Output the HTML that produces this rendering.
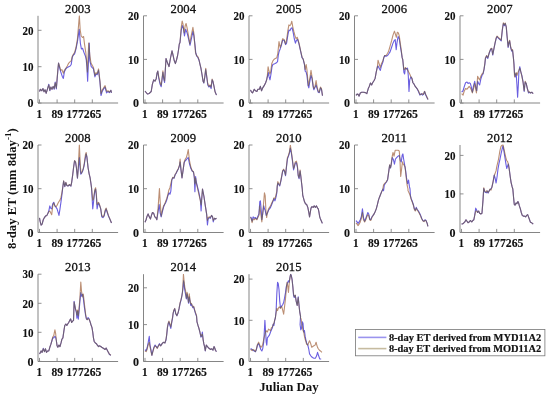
<!DOCTYPE html><html><head><meta charset="utf-8"><style>html,body{margin:0;padding:0;background:#fff;width:550px;height:398px;overflow:hidden}svg{display:block}text{font-family:"Liberation Serif","Times New Roman",serif}</style></head><body>
<svg width="550" height="398" viewBox="0 0 550 398">
<rect width="550" height="398" fill="#fff"/>
<defs><filter id="bl" x="-5%" y="-5%" width="110%" height="110%"><feGaussianBlur stdDeviation="0.35"/></filter></defs>
<text x="77.8" y="13.2" font-size="13.5" text-anchor="middle" fill="#111" stroke="#111" stroke-width="0.3" textLength="25.4" lengthAdjust="spacingAndGlyphs">2003</text>
<clipPath id="c2003"><rect x="37.6" y="15.3" width="80.3" height="87.8"/></clipPath>
<g clip-path="url(#c2003)"><g filter="url(#bl)" fill="none" stroke-width="1.1" stroke-linejoin="round">
<polyline points="39.50,91.46 40.36,89.30 41.82,90.75 42.98,88.57 44.00,91.77 45.02,89.73 46.18,93.23 47.35,89.30 48.80,84.93 49.82,90.32 50.84,87.11 52.00,89.30 53.16,86.39 54.18,88.57 55.20,82.75 56.36,87.84 57.82,69.65 58.55,63.09 59.71,66.73 60.73,70.37 61.89,69.65 63.35,73.28 64.36,70.37 65.82,68.19 67.27,66.01 68.73,63.09 70.18,61.64 71.20,60.91 72.36,56.22 73.53,54.03 74.55,52.58 76.00,47.48 77.45,38.75 79.35,15.75 80.20,30.00 81.20,36.00 82.50,37.50 83.60,36.50 84.50,44.00 85.80,52.70 86.60,60.80 87.40,72.00 88.70,43.00 89.90,56.00 91.00,63.00 93.45,67.46 94.91,75.47 95.93,72.56 97.09,74.01 98.55,68.92 100.00,81.29 101.02,93.66 102.18,90.03 103.64,87.84 105.09,85.66 106.55,91.48 108.00,90.75 109.45,92.21 110.91,90.32 111.50,92.68" stroke="#bc8f74" style="mix-blend-mode:darken"/>
<polyline points="39.50,91.46 40.36,89.30 41.82,90.75 42.98,88.57 44.00,91.77 45.02,89.73 46.18,93.23 47.35,89.30 48.80,84.20 49.82,90.75 50.84,87.11 52.00,89.30 53.16,86.39 54.18,89.30 55.20,82.02 56.36,88.86 57.82,71.10 58.55,63.09 59.71,68.19 60.73,71.83 62.18,76.20 63.35,78.38 64.36,71.83 65.82,68.92 67.27,67.46 68.73,66.73 70.18,66.01 71.20,64.55 72.36,56.94 73.53,54.76 74.55,54.03 76.00,48.94 77.45,41.66 79.20,29.28 80.36,43.11 81.38,48.94 82.55,48.21 84.00,52.58 85.45,56.22 86.18,59.42 86.91,66.73 87.64,81.29 88.36,63.82 89.24,43.11 89.82,60.91 91.27,66.73 93.45,68.92 94.91,76.92 95.93,74.01 97.09,74.74 98.55,70.37 100.00,82.75 101.02,95.56 102.18,91.48 103.64,88.86 105.09,87.11 106.55,92.94 108.00,91.48 109.45,92.65 110.91,90.32 111.50,92.86" stroke="#6a5ee0" style="mix-blend-mode:darken"/>
</g></g>
<path d="M38.00 15.8V103.00H118.1" fill="none" stroke="#858585" stroke-width="1"/>
<path d="M38.0 103.1h3.5" stroke="#858585" stroke-width="0.9"/>
<text x="33.4" y="107.3" font-size="12" font-weight="bold" text-anchor="end" fill="#111" stroke="#111" stroke-width="0.12">0</text>
<path d="M38.0 66.7h3.5" stroke="#858585" stroke-width="0.9"/>
<text x="33.4" y="71.0" font-size="12" font-weight="bold" text-anchor="end" fill="#111" stroke="#111" stroke-width="0.12" textLength="11.0" lengthAdjust="spacingAndGlyphs">10</text>
<path d="M38.0 30.3h3.5" stroke="#858585" stroke-width="0.9"/>
<text x="33.4" y="34.6" font-size="12" font-weight="bold" text-anchor="end" fill="#111" stroke="#111" stroke-width="0.12" textLength="11.0" lengthAdjust="spacingAndGlyphs">20</text>
<path d="M39.5 103.0v-3.6" stroke="#858585" stroke-width="0.9"/>
<path d="M57.1 103.0v-3.6" stroke="#858585" stroke-width="0.9"/>
<path d="M74.7 103.0v-3.6" stroke="#858585" stroke-width="0.9"/>
<path d="M92.3 103.0v-3.6" stroke="#858585" stroke-width="0.9"/>
<text x="39.3" y="118.1" font-size="12" font-weight="bold" text-anchor="middle" fill="#111" stroke="#111" stroke-width="0.12" textLength="5.6" lengthAdjust="spacingAndGlyphs">1</text>
<text x="57.2" y="118.1" font-size="12" font-weight="bold" text-anchor="middle" fill="#111" stroke="#111" stroke-width="0.12" textLength="11.5" lengthAdjust="spacingAndGlyphs">89</text>
<text x="83.8" y="118.1" font-size="12" font-weight="bold" text-anchor="middle" fill="#111" stroke="#111" stroke-width="0.12" textLength="35.3" lengthAdjust="spacingAndGlyphs">177265</text>
<text x="183.3" y="13.2" font-size="13.5" text-anchor="middle" fill="#111" stroke="#111" stroke-width="0.3" textLength="25.4" lengthAdjust="spacingAndGlyphs">2004</text>
<clipPath id="c2004"><rect x="143.6" y="15.3" width="80.3" height="87.8"/></clipPath>
<g clip-path="url(#c2004)"><g filter="url(#bl)" fill="none" stroke-width="1.1" stroke-linejoin="round">
<polyline points="145.00,91.23 145.30,91.50 147.40,94.00 149.30,93.40 151.20,91.50 152.40,84.20 153.70,79.90 155.00,81.20 156.20,78.70 157.10,72.90 157.80,71.10 158.70,76.40 160.00,82.50 161.20,85.20 162.10,77.70 162.90,70.90 163.80,77.70 164.60,81.00 166.00,58.50 167.20,62.00 169.00,66.60 170.50,58.00 172.00,50.80 173.00,55.00 174.20,60.50 175.40,63.60 176.50,60.00 177.60,55.50 178.50,50.00 179.30,44.00 180.00,42.50 181.27,27.10 182.15,20.99 183.02,24.19 184.18,32.92 185.20,25.65 186.07,23.46 187.09,27.83 188.55,35.84 189.71,43.84 191.16,35.84 192.91,27.39 193.78,32.92 194.65,43.11 195.53,52.58 196.55,55.49 198.00,56.94 199.02,59.75 199.89,63.82 200.91,68.19 201.93,74.01 203.09,81.29 203.82,82.75 204.84,76.20 205.71,68.19 206.73,76.20 207.75,83.47 208.91,86.39 210.07,84.93 211.09,87.11 212.11,79.11 212.98,81.29 214.00,86.39 215.02,91.77 216.47,95.12" stroke="#bc8f74" style="mix-blend-mode:darken"/>
<polyline points="145.00,91.23 145.30,91.50 147.40,94.00 149.30,93.40 151.20,91.50 152.40,84.20 153.70,79.90 155.00,81.20 156.20,78.70 157.10,72.90 157.80,71.10 158.70,77.90 160.00,84.00 161.20,86.70 162.10,79.20 162.90,72.40 163.80,79.20 164.60,82.50 166.00,58.50 167.20,62.00 169.00,66.60 170.50,58.00 172.00,50.80 173.00,55.00 174.20,60.50 175.40,63.60 176.50,60.00 177.60,55.50 178.50,50.00 179.30,44.00 180.00,42.50 181.27,30.01 182.29,25.65 183.45,28.56 184.47,35.84 185.64,29.28 187.09,32.92 188.55,38.75 190.00,45.30 191.45,38.75 192.91,31.47 193.93,35.84 194.95,44.57 195.82,53.30 196.84,56.22 198.00,57.67 199.02,60.18 199.89,63.82 200.91,68.19 201.93,74.01 203.09,81.29 203.82,83.04 204.84,76.92 205.71,69.65 206.73,76.92 207.75,84.93 208.91,87.11 210.07,85.66 211.09,88.57 212.11,79.84 212.98,81.58 214.00,86.39 215.02,91.48 216.47,95.12" stroke="#6a5ee0" style="mix-blend-mode:darken"/>
</g></g>
<path d="M143.50 15.8V103.00H223.6" fill="none" stroke="#858585" stroke-width="1"/>
<path d="M143.5 103.1h3.5" stroke="#858585" stroke-width="0.9"/>
<text x="138.9" y="107.3" font-size="12" font-weight="bold" text-anchor="end" fill="#111" stroke="#111" stroke-width="0.12">0</text>
<path d="M143.5 59.4h3.5" stroke="#858585" stroke-width="0.9"/>
<text x="138.9" y="63.7" font-size="12" font-weight="bold" text-anchor="end" fill="#111" stroke="#111" stroke-width="0.12" textLength="11.0" lengthAdjust="spacingAndGlyphs">10</text>
<path d="M143.5 15.8h3.5" stroke="#858585" stroke-width="0.9"/>
<text x="138.9" y="20.0" font-size="12" font-weight="bold" text-anchor="end" fill="#111" stroke="#111" stroke-width="0.12" textLength="11.0" lengthAdjust="spacingAndGlyphs">20</text>
<path d="M145.0 103.0v-3.6" stroke="#858585" stroke-width="0.9"/>
<path d="M162.6 103.0v-3.6" stroke="#858585" stroke-width="0.9"/>
<path d="M180.2 103.0v-3.6" stroke="#858585" stroke-width="0.9"/>
<path d="M197.8 103.0v-3.6" stroke="#858585" stroke-width="0.9"/>
<text x="144.8" y="118.1" font-size="12" font-weight="bold" text-anchor="middle" fill="#111" stroke="#111" stroke-width="0.12" textLength="5.6" lengthAdjust="spacingAndGlyphs">1</text>
<text x="162.8" y="118.1" font-size="12" font-weight="bold" text-anchor="middle" fill="#111" stroke="#111" stroke-width="0.12" textLength="11.5" lengthAdjust="spacingAndGlyphs">89</text>
<text x="189.3" y="118.1" font-size="12" font-weight="bold" text-anchor="middle" fill="#111" stroke="#111" stroke-width="0.12" textLength="35.3" lengthAdjust="spacingAndGlyphs">177265</text>
<text x="288.8" y="13.2" font-size="13.5" text-anchor="middle" fill="#111" stroke="#111" stroke-width="0.3" textLength="25.4" lengthAdjust="spacingAndGlyphs">2005</text>
<clipPath id="c2005"><rect x="248.9" y="15.3" width="80.3" height="87.8"/></clipPath>
<g clip-path="url(#c2005)"><g filter="url(#bl)" fill="none" stroke-width="1.1" stroke-linejoin="round">
<polyline points="250.50,89.87 251.36,91.77 252.53,92.94 254.27,89.30 255.44,90.75 256.89,91.48 257.91,89.30 259.36,89.30 260.38,86.39 261.55,90.75 262.71,87.84 264.16,85.66 265.62,82.75 266.64,79.84 267.36,75.47 268.09,66.73 268.82,70.37 269.84,74.01 270.71,71.83 271.73,63.82 272.89,60.91 273.91,59.46 275.36,58.40 276.82,57.67 277.84,53.30 279.00,41.66 280.16,47.48 281.18,44.57 282.64,38.75 284.09,39.47 285.55,43.84 286.56,40.20 287.73,31.47 288.89,24.92 289.91,25.65 290.93,24.19 291.80,21.28 292.82,27.10 293.84,31.47 295.00,35.84 296.16,38.75 297.18,37.29 298.20,40.20 299.36,44.57 300.53,50.39 301.55,54.76 302.27,57.67 303.29,59.46 304.45,63.82 305.18,69.65 306.20,64.55 306.93,69.65 307.80,79.84 308.38,85.66 309.25,81.29 310.27,75.47 311.00,70.37 312.02,76.92 313.18,85.66 313.91,88.57 315.07,86.39 316.09,80.56 317.11,87.11 318.27,91.48 319.29,92.21 320.45,87.11 321.47,88.57 322.50,95.64" stroke="#bc8f74" style="mix-blend-mode:darken"/>
<polyline points="250.50,89.87 251.36,91.77 252.53,92.94 254.27,89.30 255.44,90.75 256.89,91.48 257.91,89.30 259.36,89.30 260.38,86.39 261.55,90.75 262.71,87.84 264.16,85.66 265.62,82.75 266.64,79.84 267.36,76.92 268.38,72.56 269.11,76.92 269.98,79.84 271.00,74.01 272.02,66.73 272.89,64.55 274.64,63.82 276.09,63.09 277.55,61.64 278.27,55.49 279.00,51.85 280.16,48.94 281.18,46.03 282.64,40.20 284.09,40.20 285.55,44.57 286.56,43.11 287.73,35.84 288.89,30.01 289.91,30.74 290.93,28.56 292.09,27.83 293.25,32.92 294.27,38.75 295.44,43.11 296.45,40.20 297.62,39.47 298.78,43.11 300.09,48.94 301.11,53.30 301.98,57.67 303.00,58.73 304.45,64.55 305.18,71.10 306.05,71.83 306.93,75.47 308.09,85.66 308.82,87.84 309.84,81.29 311.00,75.47 312.02,78.38 313.18,87.11 313.91,89.73 315.07,87.11 316.09,84.93 317.11,88.57 318.27,92.21 319.29,92.65 320.45,87.84 321.47,89.30 322.50,95.72" stroke="#6a5ee0" style="mix-blend-mode:darken"/>
</g></g>
<path d="M249.00 15.8V103.00H329.1" fill="none" stroke="#858585" stroke-width="1"/>
<path d="M249.0 103.1h3.5" stroke="#858585" stroke-width="0.9"/>
<text x="244.4" y="107.3" font-size="12" font-weight="bold" text-anchor="end" fill="#111" stroke="#111" stroke-width="0.12">0</text>
<path d="M249.0 59.4h3.5" stroke="#858585" stroke-width="0.9"/>
<text x="244.4" y="63.7" font-size="12" font-weight="bold" text-anchor="end" fill="#111" stroke="#111" stroke-width="0.12" textLength="11.0" lengthAdjust="spacingAndGlyphs">10</text>
<path d="M249.0 15.8h3.5" stroke="#858585" stroke-width="0.9"/>
<text x="244.4" y="20.0" font-size="12" font-weight="bold" text-anchor="end" fill="#111" stroke="#111" stroke-width="0.12" textLength="11.0" lengthAdjust="spacingAndGlyphs">20</text>
<path d="M250.5 103.0v-3.6" stroke="#858585" stroke-width="0.9"/>
<path d="M268.1 103.0v-3.6" stroke="#858585" stroke-width="0.9"/>
<path d="M285.7 103.0v-3.6" stroke="#858585" stroke-width="0.9"/>
<path d="M303.3 103.0v-3.6" stroke="#858585" stroke-width="0.9"/>
<text x="250.3" y="118.1" font-size="12" font-weight="bold" text-anchor="middle" fill="#111" stroke="#111" stroke-width="0.12" textLength="5.6" lengthAdjust="spacingAndGlyphs">1</text>
<text x="268.2" y="118.1" font-size="12" font-weight="bold" text-anchor="middle" fill="#111" stroke="#111" stroke-width="0.12" textLength="11.5" lengthAdjust="spacingAndGlyphs">89</text>
<text x="294.8" y="118.1" font-size="12" font-weight="bold" text-anchor="middle" fill="#111" stroke="#111" stroke-width="0.12" textLength="35.3" lengthAdjust="spacingAndGlyphs">177265</text>
<text x="394.3" y="13.2" font-size="13.5" text-anchor="middle" fill="#111" stroke="#111" stroke-width="0.3" textLength="25.4" lengthAdjust="spacingAndGlyphs">2006</text>
<clipPath id="c2006"><rect x="354.7" y="15.3" width="80.3" height="87.8"/></clipPath>
<g clip-path="url(#c2006)"><g filter="url(#bl)" fill="none" stroke-width="1.1" stroke-linejoin="round">
<polyline points="356.00,95.44 357.07,94.10 358.09,94.39 359.11,96.14 360.27,92.94 361.73,92.21 363.47,92.21 365.36,92.65 366.82,93.66 368.27,88.57 369.29,86.39 370.45,83.04 371.62,84.93 372.64,82.75 374.09,80.56 375.11,78.38 376.27,71.83 377.44,66.73 378.02,60.18 379.18,63.82 380.35,67.46 381.36,63.82 382.82,60.91 383.84,57.38 384.71,55.49 386.16,55.49 387.62,53.30 388.64,51.12 390.09,46.03 391.55,40.93 393.00,35.11 394.45,31.18 395.47,34.38 396.35,37.29 397.36,32.20 398.38,32.92 399.25,35.84 400.27,43.11 401.29,50.39 402.16,57.67 402.75,59.46 403.18,63.82 403.91,69.65 404.64,69.65 405.36,67.46 406.53,68.92 407.55,69.65 408.56,71.83 409.73,74.01 410.89,76.92 411.91,78.38 412.93,82.75 414.09,84.20 415.25,86.39 417.00,88.57 418.45,90.75 419.91,94.39 421.36,94.39 422.53,93.66 423.55,94.39 424.56,91.19 425.73,94.39 427.18,97.59 428.00,99.44" stroke="#bc8f74" style="mix-blend-mode:darken"/>
<polyline points="356.00,95.44 357.07,94.10 358.09,94.39 359.11,96.14 360.27,92.94 361.73,92.21 363.47,92.21 365.36,92.65 366.82,93.66 368.27,88.57 369.29,86.39 370.45,83.04 371.62,84.93 372.64,82.75 374.09,80.56 375.11,78.38 376.27,71.83 377.44,66.73 378.02,66.01 379.18,68.19 380.35,70.37 381.36,66.01 382.82,62.37 383.84,57.67 384.71,55.49 386.16,56.22 387.62,55.49 388.64,54.03 390.09,51.85 391.55,47.48 393.00,43.11 394.02,40.93 395.18,39.47 396.20,49.66 396.93,43.11 398.09,36.56 399.25,38.75 400.27,46.03 401.29,51.85 402.16,57.67 402.75,59.46 403.18,63.82 403.91,72.56 404.64,74.01 405.36,68.19 406.53,68.92 407.55,68.19 408.27,75.47 409.00,91.48 409.73,79.84 410.89,76.92 411.91,78.38 412.93,82.75 414.09,84.20 415.25,86.39 417.00,88.57 418.45,91.48 419.91,95.12 421.36,93.66 422.53,95.12 423.55,94.39 424.56,91.48 425.73,95.12 427.18,98.03 428.00,99.57" stroke="#6a5ee0" style="mix-blend-mode:darken"/>
</g></g>
<path d="M354.50 15.8V103.00H434.6" fill="none" stroke="#858585" stroke-width="1"/>
<path d="M354.5 103.1h3.5" stroke="#858585" stroke-width="0.9"/>
<text x="349.9" y="107.3" font-size="12" font-weight="bold" text-anchor="end" fill="#111" stroke="#111" stroke-width="0.12">0</text>
<path d="M354.5 59.4h3.5" stroke="#858585" stroke-width="0.9"/>
<text x="349.9" y="63.7" font-size="12" font-weight="bold" text-anchor="end" fill="#111" stroke="#111" stroke-width="0.12" textLength="11.0" lengthAdjust="spacingAndGlyphs">10</text>
<path d="M354.5 15.8h3.5" stroke="#858585" stroke-width="0.9"/>
<text x="349.9" y="20.0" font-size="12" font-weight="bold" text-anchor="end" fill="#111" stroke="#111" stroke-width="0.12" textLength="11.0" lengthAdjust="spacingAndGlyphs">20</text>
<path d="M356.0 103.0v-3.6" stroke="#858585" stroke-width="0.9"/>
<path d="M373.6 103.0v-3.6" stroke="#858585" stroke-width="0.9"/>
<path d="M391.2 103.0v-3.6" stroke="#858585" stroke-width="0.9"/>
<path d="M408.8 103.0v-3.6" stroke="#858585" stroke-width="0.9"/>
<text x="355.8" y="118.1" font-size="12" font-weight="bold" text-anchor="middle" fill="#111" stroke="#111" stroke-width="0.12" textLength="5.6" lengthAdjust="spacingAndGlyphs">1</text>
<text x="373.8" y="118.1" font-size="12" font-weight="bold" text-anchor="middle" fill="#111" stroke="#111" stroke-width="0.12" textLength="11.5" lengthAdjust="spacingAndGlyphs">89</text>
<text x="400.3" y="118.1" font-size="12" font-weight="bold" text-anchor="middle" fill="#111" stroke="#111" stroke-width="0.12" textLength="35.3" lengthAdjust="spacingAndGlyphs">177265</text>
<text x="499.8" y="13.2" font-size="13.5" text-anchor="middle" fill="#111" stroke="#111" stroke-width="0.3" textLength="25.4" lengthAdjust="spacingAndGlyphs">2007</text>
<clipPath id="c2007"><rect x="460.2" y="15.3" width="80.3" height="87.8"/></clipPath>
<g clip-path="url(#c2007)"><g filter="url(#bl)" fill="none" stroke-width="1.1" stroke-linejoin="round">
<polyline points="461.62,93.66 463.07,95.12 464.09,91.48 465.55,88.57 467.00,89.30 468.02,87.84 469.18,86.39 470.35,87.84 471.36,90.03 472.38,92.94 473.55,88.57 474.71,83.47 475.73,89.30 476.45,92.94 477.62,76.20 478.64,78.38 479.65,79.84 480.82,76.20 481.98,74.01 483.00,73.28 484.02,68.92 484.89,63.09 485.47,57.67 486.64,55.49 487.80,57.67 489.25,52.58 490.71,48.65 491.73,48.21 492.75,54.47 493.91,48.65 495.07,42.82 496.09,38.02 497.11,36.13 498.27,37.29 499.73,38.75 501.18,40.20 502.35,29.28 503.36,22.73 504.38,24.92 505.25,23.03 506.27,26.81 507.00,35.11 508.16,46.75 508.89,42.39 509.62,40.20 510.64,46.75 511.65,50.39 512.53,49.66 513.40,57.67 513.98,65.28 514.56,76.92 515.44,74.01 516.16,72.56 516.89,75.47 517.91,72.56 518.93,70.37 519.80,68.19 520.82,71.83 521.84,76.20 523.00,82.02 524.16,90.75 525.18,81.29 526.20,83.47 527.36,88.57 528.53,92.21 529.55,91.77 530.56,92.94 531.73,92.21 533.18,93.66" stroke="#bc8f74" style="mix-blend-mode:darken"/>
<polyline points="461.62,92.21 463.07,90.75 464.09,87.11 465.55,82.75 467.00,82.02 468.02,83.47 469.18,82.75 470.35,83.47 471.36,87.11 472.38,92.21 473.55,85.66 474.71,81.29 475.73,87.11 476.75,90.75 477.62,81.29 478.64,83.47 479.65,84.93 480.82,79.11 481.98,75.47 483.00,74.01 484.02,69.65 484.89,63.82 485.47,58.40 486.64,55.92 487.80,58.40 489.25,53.01 490.71,49.23 491.73,48.65 492.75,55.05 493.91,48.94 495.07,43.11 496.09,38.75 497.11,36.56 498.27,38.02 499.73,39.47 501.18,40.93 502.35,30.01 503.36,23.46 504.38,25.65 505.25,23.46 506.27,27.10 507.00,35.84 508.16,47.48 508.89,43.11 509.62,40.93 510.64,47.48 511.65,51.12 512.53,50.10 513.40,57.67 513.98,63.82 514.56,74.01 515.44,76.92 516.16,73.28 516.89,84.20 517.62,97.30 518.35,84.20 518.93,71.10 519.80,66.73 520.82,71.83 521.84,75.47 523.00,81.29 524.16,91.48 525.18,82.02 526.20,83.47 527.36,88.57 528.53,92.94 529.55,92.21 530.56,92.94 531.73,92.21 533.18,93.66" stroke="#6a5ee0" style="mix-blend-mode:darken"/>
</g></g>
<path d="M460.00 15.8V103.00H540.1" fill="none" stroke="#858585" stroke-width="1"/>
<path d="M460.0 103.1h3.5" stroke="#858585" stroke-width="0.9"/>
<text x="455.4" y="107.3" font-size="12" font-weight="bold" text-anchor="end" fill="#111" stroke="#111" stroke-width="0.12">0</text>
<path d="M460.0 59.4h3.5" stroke="#858585" stroke-width="0.9"/>
<text x="455.4" y="63.7" font-size="12" font-weight="bold" text-anchor="end" fill="#111" stroke="#111" stroke-width="0.12" textLength="11.0" lengthAdjust="spacingAndGlyphs">10</text>
<path d="M460.0 15.8h3.5" stroke="#858585" stroke-width="0.9"/>
<text x="455.4" y="20.0" font-size="12" font-weight="bold" text-anchor="end" fill="#111" stroke="#111" stroke-width="0.12" textLength="11.0" lengthAdjust="spacingAndGlyphs">20</text>
<path d="M461.5 103.0v-3.6" stroke="#858585" stroke-width="0.9"/>
<path d="M479.1 103.0v-3.6" stroke="#858585" stroke-width="0.9"/>
<path d="M496.7 103.0v-3.6" stroke="#858585" stroke-width="0.9"/>
<path d="M514.3 103.0v-3.6" stroke="#858585" stroke-width="0.9"/>
<text x="461.3" y="118.1" font-size="12" font-weight="bold" text-anchor="middle" fill="#111" stroke="#111" stroke-width="0.12" textLength="5.6" lengthAdjust="spacingAndGlyphs">1</text>
<text x="479.2" y="118.1" font-size="12" font-weight="bold" text-anchor="middle" fill="#111" stroke="#111" stroke-width="0.12" textLength="11.5" lengthAdjust="spacingAndGlyphs">89</text>
<text x="505.8" y="118.1" font-size="12" font-weight="bold" text-anchor="middle" fill="#111" stroke="#111" stroke-width="0.12" textLength="35.3" lengthAdjust="spacingAndGlyphs">177265</text>
<text x="77.8" y="141.8" font-size="13.5" text-anchor="middle" fill="#111" stroke="#111" stroke-width="0.3" textLength="25.4" lengthAdjust="spacingAndGlyphs">2008</text>
<clipPath id="c2008"><rect x="37.6" y="144.5" width="80.3" height="87.9"/></clipPath>
<g clip-path="url(#c2008)"><g filter="url(#bl)" fill="none" stroke-width="1.1" stroke-linejoin="round">
<polyline points="39.50,217.87 40.07,221.21 41.09,225.14 42.11,224.12 43.27,219.75 44.44,217.57 45.45,216.11 46.91,215.39 47.93,213.20 48.80,211.75 49.82,211.02 50.55,212.47 51.71,214.66 52.73,205.92 53.75,203.01 54.91,205.92 56.07,206.65 57.09,205.20 58.11,203.01 58.98,201.56 60.00,200.10 61.02,197.19 61.89,192.82 62.62,188.46 63.64,180.85 64.80,186.38 65.82,182.30 66.84,185.22 68.00,185.94 69.45,184.49 70.91,185.94 71.64,182.30 72.65,175.03 73.53,167.75 74.55,160.47 75.56,161.92 76.44,167.75 77.45,177.94 78.18,169.20 79.35,144.75 80.36,166.29 81.09,173.57 82.25,171.39 83.27,168.47 84.29,163.38 85.45,154.65 86.18,152.46 86.91,157.56 88.07,167.75 89.09,173.57 90.11,177.94 90.98,183.76 91.56,188.13 92.00,192.82 92.73,200.10 93.45,199.37 94.18,194.28 94.91,189.18 95.64,187.73 96.36,194.28 97.09,204.47 97.82,203.01 98.55,202.28 99.71,205.20 100.73,208.84 101.75,215.39 102.91,216.84 104.07,215.39 105.09,210.29 106.11,208.11 107.27,211.75 108.44,215.39 109.45,217.86 110.47,220.48 111.50,223.05" stroke="#bc8f74" style="mix-blend-mode:darken"/>
<polyline points="39.50,217.87 40.07,221.21 41.09,225.14 42.11,224.12 43.27,219.75 44.44,217.57 45.45,216.11 46.91,215.39 47.93,213.20 48.80,211.02 49.82,205.92 50.55,208.11 51.71,208.84 52.73,203.74 53.75,202.28 54.91,205.92 56.07,207.38 57.09,208.84 58.11,212.47 58.98,215.39 60.00,208.84 61.02,201.56 61.89,195.01 62.62,188.46 63.64,181.14 64.80,186.67 65.82,182.59 66.84,185.51 68.00,186.09 69.45,184.78 70.91,186.09 71.64,182.59 72.65,175.32 73.53,168.04 74.55,160.76 75.56,162.22 76.44,168.04 77.45,178.23 78.18,169.49 79.35,157.56 80.07,167.75 80.80,174.30 81.82,172.84 82.84,170.66 84.00,166.29 85.16,159.01 86.18,153.92 86.91,156.83 88.07,167.75 89.09,173.57 90.11,177.94 90.98,183.76 91.56,188.13 92.00,195.73 92.73,208.84 93.45,203.01 94.18,195.73 94.91,190.64 95.64,189.18 96.36,195.73 97.09,208.84 97.82,205.20 98.55,203.01 99.71,205.92 100.73,208.84 101.75,216.84 102.91,217.57 104.07,216.11 105.09,211.75 106.11,208.84 107.27,212.47 108.44,216.11 109.45,218.30 110.47,220.48 111.50,223.05" stroke="#6a5ee0" style="mix-blend-mode:darken"/>
</g></g>
<path d="M38.00 145.0V232.50H118.1" fill="none" stroke="#858585" stroke-width="1"/>
<path d="M38.0 232.4h3.5" stroke="#858585" stroke-width="0.9"/>
<text x="33.4" y="236.7" font-size="12" font-weight="bold" text-anchor="end" fill="#111" stroke="#111" stroke-width="0.12">0</text>
<path d="M38.0 188.7h3.5" stroke="#858585" stroke-width="0.9"/>
<text x="33.4" y="192.9" font-size="12" font-weight="bold" text-anchor="end" fill="#111" stroke="#111" stroke-width="0.12" textLength="11.0" lengthAdjust="spacingAndGlyphs">10</text>
<path d="M38.0 145.0h3.5" stroke="#858585" stroke-width="0.9"/>
<text x="33.4" y="149.2" font-size="12" font-weight="bold" text-anchor="end" fill="#111" stroke="#111" stroke-width="0.12" textLength="11.0" lengthAdjust="spacingAndGlyphs">20</text>
<path d="M39.5 232.5v-3.6" stroke="#858585" stroke-width="0.9"/>
<path d="M57.1 232.5v-3.6" stroke="#858585" stroke-width="0.9"/>
<path d="M74.7 232.5v-3.6" stroke="#858585" stroke-width="0.9"/>
<path d="M92.3 232.5v-3.6" stroke="#858585" stroke-width="0.9"/>
<text x="39.3" y="247.4" font-size="12" font-weight="bold" text-anchor="middle" fill="#111" stroke="#111" stroke-width="0.12" textLength="5.6" lengthAdjust="spacingAndGlyphs">1</text>
<text x="57.2" y="247.4" font-size="12" font-weight="bold" text-anchor="middle" fill="#111" stroke="#111" stroke-width="0.12" textLength="11.5" lengthAdjust="spacingAndGlyphs">89</text>
<text x="83.8" y="247.4" font-size="12" font-weight="bold" text-anchor="middle" fill="#111" stroke="#111" stroke-width="0.12" textLength="35.3" lengthAdjust="spacingAndGlyphs">177265</text>
<text x="183.3" y="141.8" font-size="13.5" text-anchor="middle" fill="#111" stroke="#111" stroke-width="0.3" textLength="25.4" lengthAdjust="spacingAndGlyphs">2009</text>
<clipPath id="c2009"><rect x="143.6" y="144.5" width="80.3" height="87.9"/></clipPath>
<g clip-path="url(#c2009)"><g filter="url(#bl)" fill="none" stroke-width="1.1" stroke-linejoin="round">
<polyline points="145.00,222.22 146.07,219.75 147.09,216.11 148.11,213.93 149.27,216.84 150.44,219.03 151.45,215.39 152.47,212.47 153.64,213.20 154.80,216.84 155.82,217.57 156.84,219.75 158.00,208.84 158.73,198.65 159.45,188.46 160.18,201.56 161.20,216.11 162.36,210.29 163.53,205.92 164.55,204.47 165.56,201.56 166.73,198.65 167.89,194.28 168.91,189.91 169.93,187.73 171.82,179.39 172.84,177.21 174.00,177.94 175.16,174.30 176.18,172.84 177.20,170.66 178.36,168.47 179.53,164.84 180.11,159.01 180.98,169.20 182.00,177.94 183.02,170.66 184.18,161.92 185.35,159.01 186.36,157.56 187.38,153.92 188.25,149.55 189.40,160.00 190.80,167.00 192.10,170.50 193.50,172.00 194.30,176.00 194.90,184.00 195.60,178.00 196.30,183.00 197.70,189.00 199.00,195.00 200.40,201.00 201.10,205.00 201.80,197.00 202.50,189.00 203.90,196.50 205.30,205.60 206.60,213.90 207.45,220.48 208.18,217.57 209.20,216.84 210.36,217.57 211.53,215.39 212.55,216.84 213.27,220.48 214.44,218.30 215.45,219.03 216.47,218.30" stroke="#bc8f74" style="mix-blend-mode:darken"/>
<polyline points="145.00,222.22 146.07,219.75 147.09,216.11 148.11,213.93 149.27,216.84 150.44,219.03 151.45,215.39 152.47,212.47 153.64,213.20 154.80,216.84 155.82,217.57 156.84,219.75 158.00,212.47 159.16,204.47 160.18,213.20 161.20,216.84 162.36,211.75 163.53,207.38 164.55,204.47 165.56,203.01 166.73,200.10 167.89,195.73 168.91,192.82 169.93,194.28 170.80,191.37 171.82,180.12 172.84,177.65 174.00,178.23 175.16,174.73 176.18,173.28 177.20,170.95 178.36,168.91 179.53,165.56 180.11,161.92 180.98,169.93 182.00,177.94 183.02,170.95 184.18,162.65 185.35,160.47 186.36,159.74 187.38,158.28 188.25,157.56 189.40,163.50 190.80,168.30 192.10,171.00 193.50,172.00 194.30,178.00 194.90,191.80 195.60,176.60 196.30,182.00 197.70,187.60 199.00,193.00 200.40,200.00 201.10,211.00 201.80,198.70 202.50,189.00 203.90,196.00 205.30,205.60 206.60,213.90 207.45,224.85 208.18,219.03 209.20,217.57 210.36,218.30 211.53,215.39 212.55,216.84 213.27,221.94 214.44,218.30 215.45,219.03 216.47,218.30" stroke="#6a5ee0" style="mix-blend-mode:darken"/>
</g></g>
<path d="M143.50 145.0V232.50H223.6" fill="none" stroke="#858585" stroke-width="1"/>
<path d="M143.5 232.4h3.5" stroke="#858585" stroke-width="0.9"/>
<text x="138.9" y="236.7" font-size="12" font-weight="bold" text-anchor="end" fill="#111" stroke="#111" stroke-width="0.12">0</text>
<path d="M143.5 188.7h3.5" stroke="#858585" stroke-width="0.9"/>
<text x="138.9" y="192.9" font-size="12" font-weight="bold" text-anchor="end" fill="#111" stroke="#111" stroke-width="0.12" textLength="11.0" lengthAdjust="spacingAndGlyphs">10</text>
<path d="M143.5 145.0h3.5" stroke="#858585" stroke-width="0.9"/>
<text x="138.9" y="149.2" font-size="12" font-weight="bold" text-anchor="end" fill="#111" stroke="#111" stroke-width="0.12" textLength="11.0" lengthAdjust="spacingAndGlyphs">20</text>
<path d="M145.0 232.5v-3.6" stroke="#858585" stroke-width="0.9"/>
<path d="M162.6 232.5v-3.6" stroke="#858585" stroke-width="0.9"/>
<path d="M180.2 232.5v-3.6" stroke="#858585" stroke-width="0.9"/>
<path d="M197.8 232.5v-3.6" stroke="#858585" stroke-width="0.9"/>
<text x="144.8" y="247.4" font-size="12" font-weight="bold" text-anchor="middle" fill="#111" stroke="#111" stroke-width="0.12" textLength="5.6" lengthAdjust="spacingAndGlyphs">1</text>
<text x="162.8" y="247.4" font-size="12" font-weight="bold" text-anchor="middle" fill="#111" stroke="#111" stroke-width="0.12" textLength="11.5" lengthAdjust="spacingAndGlyphs">89</text>
<text x="189.3" y="247.4" font-size="12" font-weight="bold" text-anchor="middle" fill="#111" stroke="#111" stroke-width="0.12" textLength="35.3" lengthAdjust="spacingAndGlyphs">177265</text>
<text x="288.8" y="141.8" font-size="13.5" text-anchor="middle" fill="#111" stroke="#111" stroke-width="0.3" textLength="25.4" lengthAdjust="spacingAndGlyphs">2010</text>
<clipPath id="c2010"><rect x="248.9" y="144.5" width="80.3" height="87.9"/></clipPath>
<g clip-path="url(#c2010)"><g filter="url(#bl)" fill="none" stroke-width="1.1" stroke-linejoin="round">
<polyline points="250.50,217.32 251.07,218.30 252.09,222.66 253.11,219.03 254.27,219.75 255.44,218.30 256.89,219.75 257.91,217.57 258.93,215.39 259.80,205.92 260.38,210.29 261.11,216.11 261.84,221.94 262.71,213.20 263.73,201.56 264.45,192.82 265.18,195.73 265.91,210.29 266.64,217.57 267.36,213.20 268.53,208.84 269.55,207.38 270.56,205.92 271.73,203.01 272.89,200.83 273.91,197.92 274.93,198.65 275.80,195.73 276.82,191.37 277.25,185.94 277.84,181.58 278.71,183.76 279.73,185.22 280.75,180.85 281.62,176.48 282.64,170.66 283.65,169.20 284.53,170.66 285.55,175.03 286.27,167.75 287.44,157.56 288.45,155.37 289.47,151.73 290.35,145.18 291.36,151.73 292.38,159.01 293.55,168.47 294.27,166.29 295.29,161.92 296.45,161.20 297.47,166.29 298.20,175.03 299.07,177.94 300.09,169.93 300.82,175.75 301.55,182.30 302.27,189.00 302.71,195.01 303.44,197.92 304.45,201.56 305.47,203.74 306.64,204.47 307.80,207.38 308.82,212.47 309.55,216.84 310.27,212.47 311.00,208.11 312.02,206.65 313.18,207.38 314.20,205.92 315.36,207.38 316.53,205.92 317.55,208.11 318.27,208.84 319.00,212.47 319.73,216.84 320.45,219.03 321.47,221.21 322.35,223.39" stroke="#bc8f74" style="mix-blend-mode:darken"/>
<polyline points="250.50,216.88 251.07,217.57 252.09,221.21 253.11,216.84 254.27,218.30 255.44,217.57 256.89,219.03 257.91,216.11 258.93,213.93 259.80,201.56 260.38,200.83 261.11,208.84 261.84,219.75 262.71,213.93 263.73,205.92 264.45,208.84 265.18,210.29 266.20,215.39 267.36,213.20 268.53,210.29 269.55,208.84 270.56,207.38 271.73,204.47 272.89,201.56 273.91,198.65 274.93,200.83 275.80,197.92 276.82,192.82 277.25,186.38 277.84,183.03 278.71,184.49 279.73,185.94 280.75,181.58 281.62,177.21 282.64,171.39 283.65,169.93 284.53,171.39 285.55,175.75 286.27,168.91 287.44,158.72 288.45,156.39 289.47,152.90 290.35,148.09 291.36,153.19 292.38,160.47 293.55,169.93 294.27,167.46 295.29,163.09 296.45,162.65 297.47,167.75 298.20,175.75 299.07,178.66 300.09,170.95 300.82,176.48 301.55,183.03 302.27,189.00 302.71,195.01 303.44,197.92 304.45,201.56 305.47,203.74 306.64,204.47 307.80,207.38 308.82,212.47 309.55,216.84 310.27,212.47 311.00,208.11 312.02,206.65 313.18,207.38 314.20,205.92 315.36,207.38 316.53,205.92 317.55,208.11 318.27,208.84 319.00,212.47 319.73,216.84 320.45,219.03 321.47,221.21 322.35,223.39" stroke="#6a5ee0" style="mix-blend-mode:darken"/>
</g></g>
<path d="M249.00 145.0V232.50H329.1" fill="none" stroke="#858585" stroke-width="1"/>
<path d="M249.0 232.4h3.5" stroke="#858585" stroke-width="0.9"/>
<text x="244.4" y="236.7" font-size="12" font-weight="bold" text-anchor="end" fill="#111" stroke="#111" stroke-width="0.12">0</text>
<path d="M249.0 188.7h3.5" stroke="#858585" stroke-width="0.9"/>
<text x="244.4" y="192.9" font-size="12" font-weight="bold" text-anchor="end" fill="#111" stroke="#111" stroke-width="0.12" textLength="11.0" lengthAdjust="spacingAndGlyphs">10</text>
<path d="M249.0 145.0h3.5" stroke="#858585" stroke-width="0.9"/>
<text x="244.4" y="149.2" font-size="12" font-weight="bold" text-anchor="end" fill="#111" stroke="#111" stroke-width="0.12" textLength="11.0" lengthAdjust="spacingAndGlyphs">20</text>
<path d="M250.5 232.5v-3.6" stroke="#858585" stroke-width="0.9"/>
<path d="M268.1 232.5v-3.6" stroke="#858585" stroke-width="0.9"/>
<path d="M285.7 232.5v-3.6" stroke="#858585" stroke-width="0.9"/>
<path d="M303.3 232.5v-3.6" stroke="#858585" stroke-width="0.9"/>
<text x="250.3" y="247.4" font-size="12" font-weight="bold" text-anchor="middle" fill="#111" stroke="#111" stroke-width="0.12" textLength="5.6" lengthAdjust="spacingAndGlyphs">1</text>
<text x="268.2" y="247.4" font-size="12" font-weight="bold" text-anchor="middle" fill="#111" stroke="#111" stroke-width="0.12" textLength="11.5" lengthAdjust="spacingAndGlyphs">89</text>
<text x="294.8" y="247.4" font-size="12" font-weight="bold" text-anchor="middle" fill="#111" stroke="#111" stroke-width="0.12" textLength="35.3" lengthAdjust="spacingAndGlyphs">177265</text>
<text x="394.3" y="141.8" font-size="13.5" text-anchor="middle" fill="#111" stroke="#111" stroke-width="0.3" textLength="25.4" lengthAdjust="spacingAndGlyphs">2011</text>
<clipPath id="c2011"><rect x="354.7" y="144.5" width="80.3" height="87.9"/></clipPath>
<g clip-path="url(#c2011)"><g filter="url(#bl)" fill="none" stroke-width="1.1" stroke-linejoin="round">
<polyline points="356.00,222.83 357.07,224.12 358.09,225.58 359.11,224.12 360.27,221.94 361.44,218.30 362.45,212.47 363.47,219.75 364.64,221.94 365.80,219.75 366.82,216.84 367.84,214.66 368.71,215.39 369.73,219.75 370.75,220.48 371.91,217.57 373.07,215.39 374.09,213.93 375.11,211.75 376.27,208.84 377.44,204.47 378.45,200.10 379.47,197.19 380.64,194.28 381.80,191.37 382.82,189.18 383.55,184.92 385.00,183.03 386.45,181.58 387.62,179.39 388.64,172.11 389.65,164.84 390.53,167.75 391.11,164.84 391.98,157.56 393.00,152.46 394.02,156.10 395.18,150.28 396.64,150.28 398.09,150.28 399.25,151.01 399.84,157.56 400.71,176.48 401.73,167.75 402.45,161.92 403.18,164.11 403.91,164.84 405.07,167.02 406.09,176.48 407.11,185.22 407.98,189.00 407.98,190.64 409.00,192.82 410.02,195.01 411.18,199.37 412.35,202.28 413.36,205.20 414.38,209.56 415.25,211.02 416.27,208.11 417.29,210.29 418.45,211.75 419.62,213.93 420.64,216.11 421.65,218.73 422.82,220.77 423.98,221.65 425.00,220.19 426.02,220.77 427.18,223.39 427.91,226.30" stroke="#bc8f74" style="mix-blend-mode:darken"/>
<polyline points="356.00,220.65 357.07,221.94 358.09,223.39 359.11,221.94 360.27,219.75 361.44,216.11 362.45,208.84 363.47,217.57 364.64,221.21 365.80,218.30 366.82,215.39 367.84,212.47 368.71,213.93 369.73,219.03 370.75,219.75 371.91,216.84 373.07,215.39 374.09,213.93 375.11,211.75 376.27,208.84 377.44,204.47 378.45,200.10 379.47,197.19 380.64,194.28 381.80,191.37 382.82,189.18 383.55,190.64 384.27,185.22 385.29,183.47 386.45,182.01 387.62,179.68 388.64,172.41 389.65,165.13 390.53,168.04 391.11,165.13 392.27,157.56 393.44,159.74 394.45,164.11 395.47,159.01 396.64,157.56 398.09,156.10 399.25,155.37 400.27,160.47 401.29,161.92 402.16,155.37 402.89,153.92 403.62,159.01 404.64,164.84 405.65,170.66 406.53,177.94 407.55,183.76 408.56,180.12 409.44,186.67 410.02,189.00 410.45,195.73 411.18,198.65 412.35,201.56 413.36,204.47 414.38,208.84 415.25,210.29 416.27,207.38 417.29,209.56 418.45,211.02 419.62,213.20 420.64,215.39 421.65,218.30 422.82,220.48 423.98,221.21 425.00,219.75 426.02,220.48 427.18,223.39 427.91,226.30" stroke="#6a5ee0" style="mix-blend-mode:darken"/>
</g></g>
<path d="M354.50 145.0V232.50H434.6" fill="none" stroke="#858585" stroke-width="1"/>
<path d="M354.5 232.4h3.5" stroke="#858585" stroke-width="0.9"/>
<text x="349.9" y="236.7" font-size="12" font-weight="bold" text-anchor="end" fill="#111" stroke="#111" stroke-width="0.12">0</text>
<path d="M354.5 188.7h3.5" stroke="#858585" stroke-width="0.9"/>
<text x="349.9" y="192.9" font-size="12" font-weight="bold" text-anchor="end" fill="#111" stroke="#111" stroke-width="0.12" textLength="11.0" lengthAdjust="spacingAndGlyphs">10</text>
<path d="M354.5 145.0h3.5" stroke="#858585" stroke-width="0.9"/>
<text x="349.9" y="149.2" font-size="12" font-weight="bold" text-anchor="end" fill="#111" stroke="#111" stroke-width="0.12" textLength="11.0" lengthAdjust="spacingAndGlyphs">20</text>
<path d="M356.0 232.5v-3.6" stroke="#858585" stroke-width="0.9"/>
<path d="M373.6 232.5v-3.6" stroke="#858585" stroke-width="0.9"/>
<path d="M391.2 232.5v-3.6" stroke="#858585" stroke-width="0.9"/>
<path d="M408.8 232.5v-3.6" stroke="#858585" stroke-width="0.9"/>
<text x="355.8" y="247.4" font-size="12" font-weight="bold" text-anchor="middle" fill="#111" stroke="#111" stroke-width="0.12" textLength="5.6" lengthAdjust="spacingAndGlyphs">1</text>
<text x="373.8" y="247.4" font-size="12" font-weight="bold" text-anchor="middle" fill="#111" stroke="#111" stroke-width="0.12" textLength="11.5" lengthAdjust="spacingAndGlyphs">89</text>
<text x="400.3" y="247.4" font-size="12" font-weight="bold" text-anchor="middle" fill="#111" stroke="#111" stroke-width="0.12" textLength="35.3" lengthAdjust="spacingAndGlyphs">177265</text>
<text x="499.8" y="141.8" font-size="13.5" text-anchor="middle" fill="#111" stroke="#111" stroke-width="0.3" textLength="25.4" lengthAdjust="spacingAndGlyphs">2012</text>
<clipPath id="c2012"><rect x="460.2" y="144.5" width="80.3" height="87.9"/></clipPath>
<g clip-path="url(#c2012)"><g filter="url(#bl)" fill="none" stroke-width="1.1" stroke-linejoin="round">
<polyline points="461.62,224.12 463.36,223.39 464.82,221.94 465.98,219.75 467.00,221.21 468.02,222.66 469.18,221.94 470.35,220.48 471.80,221.94 472.82,220.48 473.84,219.75 474.71,215.39 475.73,211.02 476.75,211.02 477.62,212.47 478.64,211.02 479.65,213.20 480.82,213.93 481.98,213.20 483.00,200.10 483.73,187.73 484.89,191.37 485.91,192.09 486.93,190.64 487.80,192.53 488.82,191.37 489.84,189.18 491.00,190.20 491.87,187.29 493.18,180.85 494.20,175.75 495.07,173.57 496.09,170.66 496.82,166.29 497.55,163.38 498.56,159.01 499.73,151.73 500.89,146.64 501.91,145.18 502.93,144.46 503.80,148.09 504.82,153.19 505.84,157.56 506.71,160.47 507.73,161.92 508.45,164.84 509.18,169.20 510.20,176.48 511.07,182.30 512.09,186.67 512.82,189.00 513.11,192.09 513.55,197.19 514.27,204.47 515.00,205.20 516.02,203.01 516.89,203.74 517.91,201.56 518.64,203.01 519.36,205.92 520.38,208.84 521.25,212.47 522.27,215.39 523.29,216.11 524.45,216.11 525.62,216.84 526.64,215.39 527.65,214.66 528.53,216.84 529.55,219.75 530.27,221.94 531.44,222.66 532.45,223.39 533.18,224.12" stroke="#bc8f74" style="mix-blend-mode:darken"/>
<polyline points="461.62,224.12 463.36,223.39 464.82,221.94 465.98,219.75 467.00,221.21 468.02,222.66 469.18,221.94 470.35,220.48 471.80,221.94 472.82,220.48 473.84,219.75 474.71,215.39 475.73,208.11 476.75,210.29 477.62,212.47 478.64,211.02 479.65,213.20 480.82,213.93 481.98,213.20 483.00,200.10 483.73,188.46 484.89,192.09 486.35,192.82 487.36,191.08 488.09,193.11 489.55,190.20 491.00,188.75 491.87,187.29 493.18,181.58 494.20,175.03 495.07,177.94 496.09,183.03 497.11,176.48 497.98,169.20 499.00,163.38 500.02,159.01 501.18,153.19 502.35,148.09 502.93,145.91 503.80,150.28 504.82,156.83 505.84,163.38 506.71,168.47 507.73,165.56 508.45,164.11 509.18,168.47 510.20,176.48 511.07,182.30 512.09,186.67 512.82,189.00 513.11,192.09 513.55,197.19 514.27,204.47 515.00,205.20 516.02,203.01 516.89,203.74 517.91,201.56 518.64,203.01 519.36,205.92 520.38,208.84 521.25,212.47 522.27,215.39 523.29,216.11 524.45,216.11 525.62,216.84 526.64,215.39 527.65,214.66 528.53,216.84 529.55,219.75 530.27,221.94 531.44,222.66 532.45,223.39 533.18,224.12" stroke="#6a5ee0" style="mix-blend-mode:darken"/>
</g></g>
<path d="M460.00 145.0V232.50H540.1" fill="none" stroke="#858585" stroke-width="1"/>
<path d="M460.0 232.4h3.5" stroke="#858585" stroke-width="0.9"/>
<text x="455.4" y="236.7" font-size="12" font-weight="bold" text-anchor="end" fill="#111" stroke="#111" stroke-width="0.12">0</text>
<path d="M460.0 193.9h3.5" stroke="#858585" stroke-width="0.9"/>
<text x="455.4" y="198.1" font-size="12" font-weight="bold" text-anchor="end" fill="#111" stroke="#111" stroke-width="0.12" textLength="11.0" lengthAdjust="spacingAndGlyphs">10</text>
<path d="M460.0 155.4h3.5" stroke="#858585" stroke-width="0.9"/>
<text x="455.4" y="159.6" font-size="12" font-weight="bold" text-anchor="end" fill="#111" stroke="#111" stroke-width="0.12" textLength="11.0" lengthAdjust="spacingAndGlyphs">20</text>
<path d="M461.5 232.5v-3.6" stroke="#858585" stroke-width="0.9"/>
<path d="M479.1 232.5v-3.6" stroke="#858585" stroke-width="0.9"/>
<path d="M496.7 232.5v-3.6" stroke="#858585" stroke-width="0.9"/>
<path d="M514.3 232.5v-3.6" stroke="#858585" stroke-width="0.9"/>
<text x="461.3" y="247.4" font-size="12" font-weight="bold" text-anchor="middle" fill="#111" stroke="#111" stroke-width="0.12" textLength="5.6" lengthAdjust="spacingAndGlyphs">1</text>
<text x="479.2" y="247.4" font-size="12" font-weight="bold" text-anchor="middle" fill="#111" stroke="#111" stroke-width="0.12" textLength="11.5" lengthAdjust="spacingAndGlyphs">89</text>
<text x="505.8" y="247.4" font-size="12" font-weight="bold" text-anchor="middle" fill="#111" stroke="#111" stroke-width="0.12" textLength="35.3" lengthAdjust="spacingAndGlyphs">177265</text>
<text x="77.8" y="271.2" font-size="13.5" text-anchor="middle" fill="#111" stroke="#111" stroke-width="0.3" textLength="25.4" lengthAdjust="spacingAndGlyphs">2013</text>
<clipPath id="c2013"><rect x="37.6" y="273.7" width="80.3" height="87.69999999999999"/></clipPath>
<g clip-path="url(#c2013)"><g filter="url(#bl)" fill="none" stroke-width="1.1" stroke-linejoin="round">
<polyline points="39.50,354.08 40.07,353.12 41.09,350.94 42.11,352.39 43.27,348.75 44.44,351.66 45.45,348.75 46.47,352.39 47.64,350.94 48.80,350.94 49.82,347.30 50.84,344.39 51.71,341.47 52.73,337.11 53.75,335.65 54.91,329.83 55.64,333.47 56.36,340.75 57.09,345.84 57.82,347.30 58.98,345.11 60.00,346.57 61.02,342.93 61.89,339.29 62.91,337.84 63.93,330.56 64.80,325.46 65.82,324.01 66.84,325.46 67.71,324.01 68.73,322.55 69.75,320.37 70.62,318.91 71.64,322.55 72.65,321.09 73.53,320.37 74.10,302.00 75.50,309.00 76.40,311.00 76.90,315.00 77.60,310.00 78.30,316.00 79.00,309.00 79.90,298.00 80.80,282.00 81.50,291.00 82.60,297.00 83.30,294.00 84.30,303.00 85.60,314.00 86.40,318.50 87.20,319.64 88.07,318.62 89.09,319.20 90.11,321.82 90.98,324.73 92.00,327.65 92.73,332.01 93.45,337.84 94.18,341.47 95.35,342.93 96.36,343.66 97.38,345.11 98.55,346.57 99.71,345.84 100.73,346.57 101.75,347.30 102.91,348.03 104.07,348.75 105.09,349.48 106.11,348.03 107.27,350.21 108.44,352.39 109.45,354.14 110.91,355.30" stroke="#bc8f74" style="mix-blend-mode:darken"/>
<polyline points="39.50,354.08 40.07,353.12 41.09,350.94 42.11,352.39 43.27,348.32 44.44,351.66 45.45,348.75 46.47,352.39 47.64,350.94 48.80,350.94 49.82,347.30 50.84,344.39 51.71,341.47 52.73,337.84 53.75,337.84 54.91,336.38 55.64,337.11 56.36,340.75 57.09,345.84 57.82,347.30 58.98,345.11 60.00,346.57 61.02,342.93 61.89,339.29 62.91,337.84 63.93,330.56 64.80,325.46 65.82,324.01 66.84,325.46 67.71,324.01 68.73,322.55 69.75,320.37 70.62,318.91 71.64,322.55 72.65,321.09 73.53,320.37 74.10,301.40 75.50,309.40 76.40,312.90 76.90,318.20 77.60,311.10 78.30,319.10 79.00,312.00 79.90,301.40 80.80,292.60 81.50,296.10 82.60,294.40 83.30,297.90 84.30,306.70 85.60,315.50 86.40,319.00 87.20,319.64 88.07,317.46 89.09,318.91 90.11,321.82 90.98,324.73 92.00,327.65 92.73,332.01 93.45,337.84 94.18,341.47 95.35,342.93 96.36,343.66 97.38,345.11 98.55,346.57 99.71,345.84 100.73,346.57 101.75,347.30 102.91,348.03 104.07,348.75 105.09,349.48 106.11,348.03 107.27,350.21 108.44,352.39 109.45,354.58 110.91,355.30" stroke="#6a5ee0" style="mix-blend-mode:darken"/>
</g></g>
<path d="M38.00 274.2V361.50H118.1" fill="none" stroke="#858585" stroke-width="1"/>
<path d="M38.0 361.4h3.5" stroke="#858585" stroke-width="0.9"/>
<text x="33.4" y="365.6" font-size="12" font-weight="bold" text-anchor="end" fill="#111" stroke="#111" stroke-width="0.12">0</text>
<path d="M38.0 332.3h3.5" stroke="#858585" stroke-width="0.9"/>
<text x="33.4" y="336.6" font-size="12" font-weight="bold" text-anchor="end" fill="#111" stroke="#111" stroke-width="0.12" textLength="11.0" lengthAdjust="spacingAndGlyphs">10</text>
<path d="M38.0 303.3h3.5" stroke="#858585" stroke-width="0.9"/>
<text x="33.4" y="307.5" font-size="12" font-weight="bold" text-anchor="end" fill="#111" stroke="#111" stroke-width="0.12" textLength="11.0" lengthAdjust="spacingAndGlyphs">20</text>
<path d="M38.0 274.2h3.5" stroke="#858585" stroke-width="0.9"/>
<text x="33.4" y="278.4" font-size="12" font-weight="bold" text-anchor="end" fill="#111" stroke="#111" stroke-width="0.12" textLength="11.0" lengthAdjust="spacingAndGlyphs">30</text>
<path d="M39.5 361.5v-3.6" stroke="#858585" stroke-width="0.9"/>
<path d="M57.1 361.5v-3.6" stroke="#858585" stroke-width="0.9"/>
<path d="M74.7 361.5v-3.6" stroke="#858585" stroke-width="0.9"/>
<path d="M92.3 361.5v-3.6" stroke="#858585" stroke-width="0.9"/>
<text x="39.3" y="376.4" font-size="12" font-weight="bold" text-anchor="middle" fill="#111" stroke="#111" stroke-width="0.12" textLength="5.6" lengthAdjust="spacingAndGlyphs">1</text>
<text x="57.2" y="376.4" font-size="12" font-weight="bold" text-anchor="middle" fill="#111" stroke="#111" stroke-width="0.12" textLength="11.5" lengthAdjust="spacingAndGlyphs">89</text>
<text x="83.8" y="376.4" font-size="12" font-weight="bold" text-anchor="middle" fill="#111" stroke="#111" stroke-width="0.12" textLength="35.3" lengthAdjust="spacingAndGlyphs">177265</text>
<text x="183.3" y="271.2" font-size="13.5" text-anchor="middle" fill="#111" stroke="#111" stroke-width="0.3" textLength="25.4" lengthAdjust="spacingAndGlyphs">2014</text>
<clipPath id="c2014"><rect x="143.6" y="273.7" width="80.3" height="87.69999999999999"/></clipPath>
<g clip-path="url(#c2014)"><g filter="url(#bl)" fill="none" stroke-width="1.1" stroke-linejoin="round">
<polyline points="145.00,350.91 146.07,351.66 147.09,349.48 148.11,345.11 149.27,342.20 150.00,346.57 151.02,351.66 151.89,355.30 152.91,351.66 153.93,348.03 155.09,345.84 156.25,346.86 157.27,348.32 158.29,346.28 159.45,344.39 160.62,345.84 161.64,344.39 162.65,342.93 163.82,342.20 164.98,342.93 166.00,339.29 166.73,334.20 167.45,326.92 168.18,323.28 168.91,321.09 169.93,324.01 170.80,326.92 171.82,321.09 172.55,317.46 173.13,313.05 173.71,310.58 174.73,308.39 175.75,313.49 176.91,315.67 178.07,312.76 179.09,308.39 180.11,302.57 180.98,299.66 181.56,297.47 182.44,292.38 183.02,283.65 183.45,274.18 184.18,282.19 184.91,288.01 185.64,290.92 186.36,298.20 187.09,292.38 187.82,296.75 188.55,302.57 189.27,293.84 190.00,299.66 190.73,304.03 191.45,303.30 192.18,305.48 192.91,306.94 193.64,306.21 194.65,309.85 195.53,312.76 196.55,315.67 196.98,321.82 198.00,325.46 198.73,327.65 199.89,332.01 200.91,336.38 201.64,334.92 202.36,334.20 203.09,339.29 203.82,343.66 204.55,346.57 205.27,350.65 206.29,345.11 207.45,346.57 208.62,348.03 209.64,348.75 210.65,349.48 211.82,348.75 212.98,350.21 214.00,346.57 214.73,348.03 215.45,350.21 216.47,351.66" stroke="#bc8f74" style="mix-blend-mode:darken"/>
<polyline points="145.00,349.65 146.07,350.94 147.09,348.03 148.11,342.93 149.27,336.38 150.00,345.11 151.02,350.21 151.89,355.30 152.91,350.94 153.93,347.30 155.09,345.11 156.25,346.57 157.27,348.03 158.29,345.84 159.45,343.66 160.62,345.84 161.64,344.39 162.65,342.93 163.82,342.20 164.98,342.93 166.00,340.02 166.73,334.92 167.45,327.65 168.18,324.01 168.91,321.82 169.93,325.46 170.80,328.37 171.82,321.82 172.55,318.18 173.13,313.49 173.71,311.01 174.73,308.68 175.75,313.78 176.91,315.67 178.07,313.05 179.09,308.68 180.11,303.30 180.98,300.39 182.00,295.29 183.02,288.01 183.60,280.73 184.18,285.10 184.91,290.92 185.64,294.56 186.36,298.93 187.09,293.84 187.82,298.20 188.55,303.30 189.27,296.75 190.00,301.11 190.73,305.48 191.45,304.03 192.18,306.21 192.91,307.66 193.64,306.94 194.65,310.58 195.53,313.49 196.55,316.40 196.98,321.82 198.00,325.46 198.73,327.65 199.89,332.01 200.91,337.11 201.64,336.38 202.36,332.01 203.09,339.29 203.82,343.66 204.55,346.57 205.27,350.94 206.29,345.11 207.45,346.57 208.62,348.03 209.64,348.75 210.65,349.48 211.82,348.75 212.98,350.21 214.00,346.57 214.73,348.03 215.45,350.21 216.47,351.66" stroke="#6a5ee0" style="mix-blend-mode:darken"/>
</g></g>
<path d="M143.50 274.2V361.50H223.6" fill="none" stroke="#858585" stroke-width="1"/>
<path d="M143.5 361.4h3.5" stroke="#858585" stroke-width="0.9"/>
<text x="138.9" y="365.6" font-size="12" font-weight="bold" text-anchor="end" fill="#111" stroke="#111" stroke-width="0.12">0</text>
<path d="M143.5 324.6h3.5" stroke="#858585" stroke-width="0.9"/>
<text x="138.9" y="328.9" font-size="12" font-weight="bold" text-anchor="end" fill="#111" stroke="#111" stroke-width="0.12" textLength="11.0" lengthAdjust="spacingAndGlyphs">10</text>
<path d="M143.5 287.8h3.5" stroke="#858585" stroke-width="0.9"/>
<text x="138.9" y="292.1" font-size="12" font-weight="bold" text-anchor="end" fill="#111" stroke="#111" stroke-width="0.12" textLength="11.0" lengthAdjust="spacingAndGlyphs">20</text>
<path d="M145.0 361.5v-3.6" stroke="#858585" stroke-width="0.9"/>
<path d="M162.6 361.5v-3.6" stroke="#858585" stroke-width="0.9"/>
<path d="M180.2 361.5v-3.6" stroke="#858585" stroke-width="0.9"/>
<path d="M197.8 361.5v-3.6" stroke="#858585" stroke-width="0.9"/>
<text x="144.8" y="376.4" font-size="12" font-weight="bold" text-anchor="middle" fill="#111" stroke="#111" stroke-width="0.12" textLength="5.6" lengthAdjust="spacingAndGlyphs">1</text>
<text x="162.8" y="376.4" font-size="12" font-weight="bold" text-anchor="middle" fill="#111" stroke="#111" stroke-width="0.12" textLength="11.5" lengthAdjust="spacingAndGlyphs">89</text>
<text x="189.3" y="376.4" font-size="12" font-weight="bold" text-anchor="middle" fill="#111" stroke="#111" stroke-width="0.12" textLength="35.3" lengthAdjust="spacingAndGlyphs">177265</text>
<text x="288.8" y="271.2" font-size="13.5" text-anchor="middle" fill="#111" stroke="#111" stroke-width="0.3" textLength="25.4" lengthAdjust="spacingAndGlyphs">2015</text>
<clipPath id="c2015"><rect x="248.9" y="273.7" width="80.3" height="87.69999999999999"/></clipPath>
<g clip-path="url(#c2015)"><g filter="url(#bl)" fill="none" stroke-width="1.1" stroke-linejoin="round">
<polyline points="250.50,349.37 251.07,349.77 252.09,350.65 253.11,349.48 254.27,350.21 255.44,351.66 256.45,348.75 257.47,344.39 258.64,342.20 259.80,345.11 260.82,347.30 261.84,346.57 262.71,344.39 263.73,339.29 264.45,336.38 265.18,333.47 265.91,330.56 266.64,331.28 267.36,332.01 268.53,329.10 269.55,329.83 270.56,330.56 271.44,327.65 272.45,326.92 273.18,324.73 273.91,323.28 274.64,320.37 275.36,318.00 276.09,312.76 276.82,308.39 277.55,310.58 278.27,308.39 279.29,306.94 280.45,308.39 281.62,306.21 282.64,309.85 283.65,314.22 284.53,306.94 285.55,298.20 286.27,289.47 287.00,282.19 287.73,285.83 288.45,292.38 289.18,283.65 289.91,277.82 290.64,274.18 291.36,276.37 292.09,280.01 292.82,286.56 293.55,293.84 294.27,296.75 295.29,295.29 296.16,301.11 297.18,305.48 298.20,297.47 299.07,306.21 299.65,311.30 300.53,316.40 300.53,318.18 301.11,318.91 301.98,324.73 303.00,330.56 303.73,332.01 304.45,336.38 305.18,339.29 305.91,341.47 306.64,344.39 307.80,345.11 308.82,342.20 309.55,340.75 310.71,343.66 311.73,347.30 312.75,346.57 313.91,345.84 315.07,345.11 316.09,342.20 316.82,345.11 317.55,347.30 318.27,348.75 319.44,350.21 320.45,350.94 321.91,352.39" stroke="#bc8f74" style="mix-blend-mode:darken"/>
<polyline points="250.50,348.93 251.07,348.75 252.09,349.48 253.11,350.21 254.27,350.94 255.44,351.66 256.45,349.48 257.47,345.11 258.64,343.66 259.80,346.57 260.82,349.48 261.84,350.94 262.71,348.75 263.73,342.20 264.45,329.10 264.89,320.37 265.62,332.01 266.20,342.20 266.78,345.11 267.36,337.84 268.53,336.38 269.55,334.92 270.56,332.01 271.44,329.83 272.45,327.65 273.18,324.01 273.91,325.46 274.64,320.37 275.36,318.00 276.09,311.30 276.82,293.84 277.55,282.19 278.27,283.65 279.00,289.47 279.73,301.11 280.45,307.66 281.62,306.21 282.64,304.75 283.65,302.57 284.53,298.20 285.55,292.38 286.27,286.56 287.44,282.92 288.45,280.73 289.18,282.19 289.91,277.82 290.64,274.18 291.36,275.64 292.09,279.28 292.82,286.56 293.55,295.29 294.27,297.47 295.29,295.29 296.16,301.11 297.18,305.48 298.20,296.75 299.07,305.48 299.65,311.30 300.53,316.40 300.09,324.73 300.82,329.83 301.55,328.37 302.27,321.82 303.00,323.28 303.73,332.01 304.45,330.56 305.18,336.38 305.91,340.02 306.64,342.93 307.80,345.11 308.82,349.48 309.55,353.85 311.00,356.03 312.45,357.49 313.91,358.22 315.36,358.22 316.53,356.03 317.55,352.39 318.27,354.58 319.00,356.76 319.73,358.94 321.18,358.94" stroke="#6a5ee0" style="mix-blend-mode:darken"/>
</g></g>
<path d="M249.00 274.2V361.50H329.1" fill="none" stroke="#858585" stroke-width="1"/>
<path d="M249.0 361.4h3.5" stroke="#858585" stroke-width="0.9"/>
<text x="244.4" y="365.6" font-size="12" font-weight="bold" text-anchor="end" fill="#111" stroke="#111" stroke-width="0.12">0</text>
<path d="M249.0 320.3h3.5" stroke="#858585" stroke-width="0.9"/>
<text x="244.4" y="324.5" font-size="12" font-weight="bold" text-anchor="end" fill="#111" stroke="#111" stroke-width="0.12" textLength="11.0" lengthAdjust="spacingAndGlyphs">10</text>
<path d="M249.0 279.1h3.5" stroke="#858585" stroke-width="0.9"/>
<text x="244.4" y="283.4" font-size="12" font-weight="bold" text-anchor="end" fill="#111" stroke="#111" stroke-width="0.12" textLength="11.0" lengthAdjust="spacingAndGlyphs">20</text>
<path d="M250.5 361.5v-3.6" stroke="#858585" stroke-width="0.9"/>
<path d="M268.1 361.5v-3.6" stroke="#858585" stroke-width="0.9"/>
<path d="M285.7 361.5v-3.6" stroke="#858585" stroke-width="0.9"/>
<path d="M303.3 361.5v-3.6" stroke="#858585" stroke-width="0.9"/>
<text x="250.3" y="376.4" font-size="12" font-weight="bold" text-anchor="middle" fill="#111" stroke="#111" stroke-width="0.12" textLength="5.6" lengthAdjust="spacingAndGlyphs">1</text>
<text x="268.2" y="376.4" font-size="12" font-weight="bold" text-anchor="middle" fill="#111" stroke="#111" stroke-width="0.12" textLength="11.5" lengthAdjust="spacingAndGlyphs">89</text>
<text x="294.8" y="376.4" font-size="12" font-weight="bold" text-anchor="middle" fill="#111" stroke="#111" stroke-width="0.12" textLength="35.3" lengthAdjust="spacingAndGlyphs">177265</text>
<text transform="translate(16.0 188.6) rotate(-90)" font-size="12.8" font-weight="bold" text-anchor="middle" fill="#111">8-day ET (mm 8day<tspan dy="-5.2" font-size="9">-1</tspan><tspan dy="5.2">)</tspan></text>
<text x="288.9" y="390.9" font-size="12.8" font-weight="bold" text-anchor="middle" fill="#111">Julian Day</text>
<rect x="355.5" y="329.5" width="189.4" height="26.3" fill="#fff" stroke="#777" stroke-width="0.8"/>
<path d="M358.2 337.4H386.4" stroke="#9a94ee" stroke-width="1.6"/>
<path d="M358.2 348.6H386.4" stroke="#c6bba0" stroke-width="1.6"/>
<text x="388.9" y="340.8" font-size="9.7" font-weight="bold" fill="#111" stroke="#111" stroke-width="0.18" textLength="152.3" lengthAdjust="spacingAndGlyphs">8-day ET derived from MYD11A2</text>
<text x="388.9" y="352.4" font-size="9.7" font-weight="bold" fill="#111" stroke="#111" stroke-width="0.18" textLength="152.3" lengthAdjust="spacingAndGlyphs">8-day ET derived from MOD11A2</text>
</svg></body></html>
